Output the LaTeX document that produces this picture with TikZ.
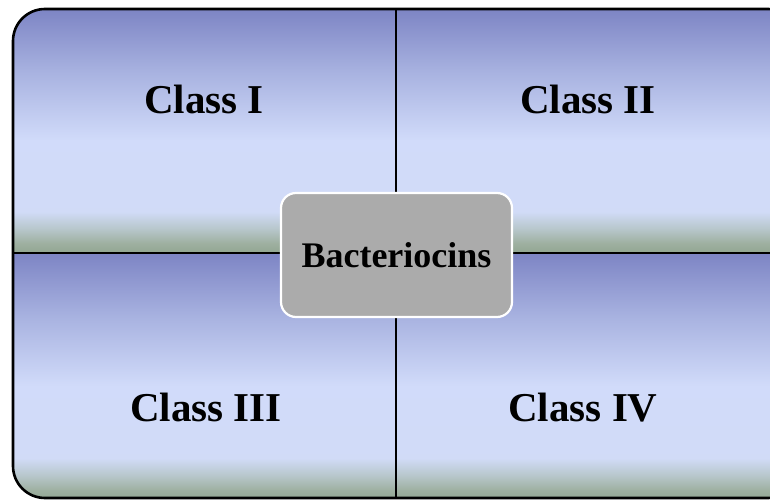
\documentclass[tikz,border=0pt]{standalone}
\usepackage{fontspec}
\setmainfont{Liberation Serif}
\pgfdeclareverticalshading{quadshade}{100bp}{rgb(0bp)=(0.57,0.65,0.57); rgb(25bp)=(0.57,0.65,0.57); rgb(27bp)=(0.62,0.69,0.63); rgb(30bp)=(0.72,0.78,0.80); rgb(33.5bp)=(0.82,0.86,0.97); rgb(48bp)=(0.82,0.86,0.98); rgb(62bp)=(0.66,0.70,0.88); rgb(75bp)=(0.49,0.52,0.77); rgb(100bp)=(0.49,0.52,0.77)}
\definecolor{centerfill}{RGB}{171,171,171}
\tikzset{
  classlabel/.style={anchor=base, inner sep=0pt, font=\fontsize{41}{48}\selectfont\bfseries},
  centerbox/.style={draw=white, line width=2.2pt, fill=centerfill, rounded corners=15pt,
    minimum width=231pt, minimum height=124pt, inner sep=0pt,
    font=\fontsize{36}{42}\selectfont\bfseries},
  divider/.style={line width=2.6pt, black},
  frame/.style={line width=2.6pt, black, rounded corners=32pt}
}
\begin{document}
\begin{tikzpicture}[x=1pt,y=1pt]
\useasboundingbox (0,0) rectangle (770,500);
\begin{scope}
\clip (0,0) rectangle (770,500);
\begin{scope}
\clip[rounded corners=32pt] (13,2) rectangle (800,491);
\shade[shading=quadshade] (0,247) rectangle (800,491);
\shade[shading=quadshade] (0,0) rectangle (800,247);
\end{scope}
\coordinate (vtop) at (396,491);
\coordinate (vbot) at (396,2);
\coordinate (hleft) at (13,247);
\coordinate (hright) at (800,247);
\draw[divider] (vtop) -- (vbot);
\draw[divider] (hleft) -- (hright);
\draw[frame] (13,2) rectangle (800,491);
\end{scope}
\node[classlabel] (c1) at (204,386) {Class I};
\node[classlabel] (c2) at (588,386) {Class II};
\node[classlabel] (c3) at (206,78) {Class III};
\node[classlabel] (c4) at (583,78) {Class IV};
\node[centerbox] (bac) at (396.5,245) {Bacteriocins};
\end{tikzpicture}
\end{document}
